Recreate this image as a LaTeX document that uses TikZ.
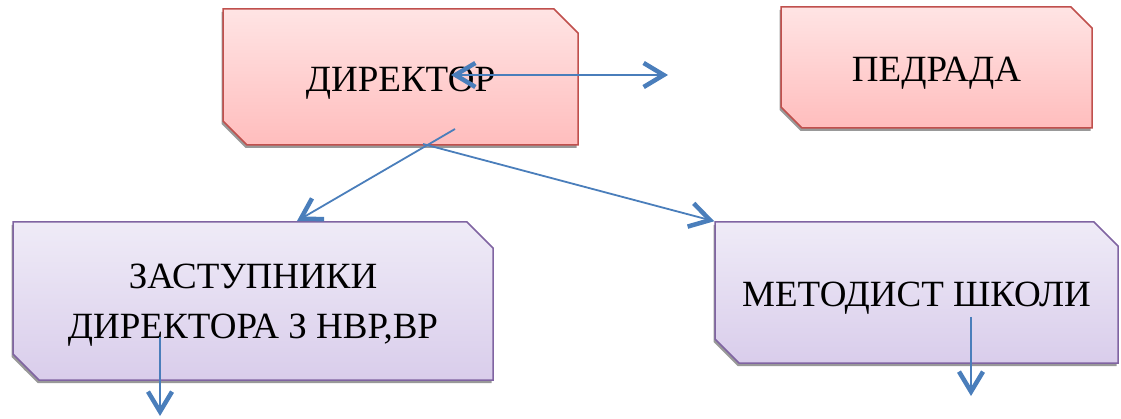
\documentclass[tikz,border=0pt]{standalone}
\usepackage{fontspec}
\setmainfont{Liberation Serif}
\usetikzlibrary{shapes.misc,shadows,arrows.meta}
\definecolor{redb}{HTML}{C0504D}
\definecolor{purb}{HTML}{8064A2}
\definecolor{pinkT}{HTML}{FFE4E4}
\definecolor{pinkB}{HTML}{FFBDBD}
\definecolor{purT}{HTML}{EFEBF7}
\definecolor{purB}{HTML}{D9CDEB}
\definecolor{arrowblue}{HTML}{4A7EBB}
\tikzset{
  box/.style={chamfered rectangle, chamfered rectangle corners={north east, south west},
    line width=1.5pt, font=\fontsize{37}{50}\selectfont, align=center,
    drop shadow={shadow xshift=-1.5pt, shadow yshift=-3pt, fill=black!40, opacity=1}},
  redbox/.style={box, draw=redb, top color=pinkT, bottom color=pinkB},
  purbox/.style={box, draw=purb, top color=purT, bottom color=purB},
  oneline/.style={text height=#1, text depth=0pt},
  conn/.style={draw=arrowblue, line width=1.8pt},
  >={Straight Barb[length=20pt, width=24pt, line width=4.5pt 0]}
}
\begin{document}
\begin{tikzpicture}[x=1pt, y=-1pt]
\useasboundingbox (0,0) rectangle (1121,419);
\node[redbox, oneline=30pt, minimum width=355pt, minimum height=136pt,
  chamfered rectangle xsep=12pt, chamfered rectangle ysep=12pt] (dir) at (400.5,77) {ДИРЕКТОР};
\node[redbox, oneline=29pt, minimum width=311pt, minimum height=121pt,
  chamfered rectangle xsep=10.5pt, chamfered rectangle ysep=10.5pt] (ped) at (936.5,67.5) {ПЕДРАДА};
\node[purbox, text depth=0pt, minimum width=480pt, minimum height=158pt,
  chamfered rectangle xsep=13pt, chamfered rectangle ysep=13pt] (zas) at (253,301) {ЗАСТУПНИКИ\\ДИРЕКТОРА З НВР,ВР};
\node[purbox, oneline=29pt, minimum width=403pt, minimum height=141pt,
  chamfered rectangle xsep=12pt, chamfered rectangle ysep=12pt] (met) at (916.5,292.5) {МЕТОДИСТ ШКОЛИ};
\coordinate (a1) at (451,75);
\coordinate (a2) at (668,75);
\coordinate (b1) at (455,129);
\coordinate (b2) at (297,221);
\coordinate (c1) at (423,144);
\coordinate (d1) at (160,337);
\coordinate (d2) at (160,416);
\coordinate (e1) at (971,317);
\coordinate (e2) at (971,396);
\draw[conn, <->] (a1) -- (a2);
\draw[conn, ->] (b1) -- (b2);
\draw[conn, ->] (c1) -- (met.north west);
\draw[conn, ->] (d1) -- (d2);
\draw[conn, ->] (e1) -- (e2);
\end{tikzpicture}
\end{document}
